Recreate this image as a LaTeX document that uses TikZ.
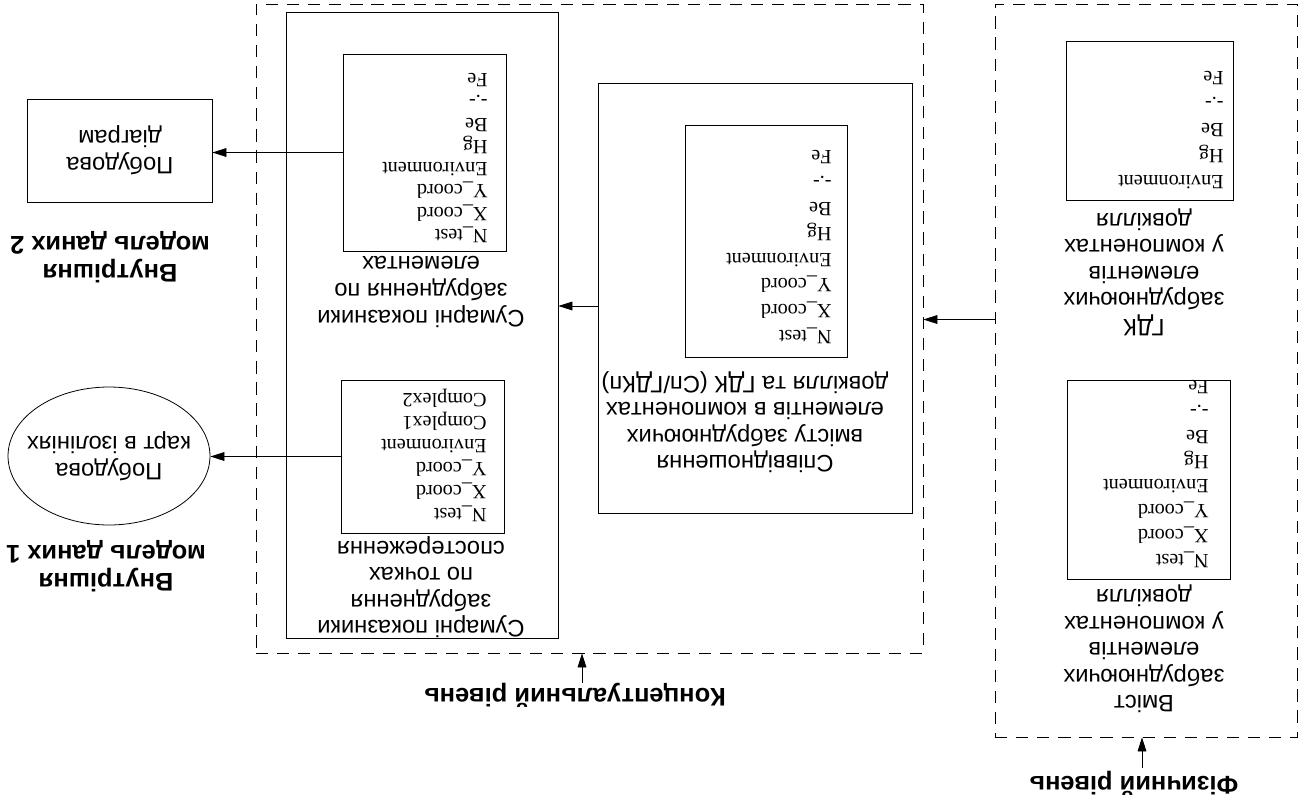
\documentclass[tikz,border=0pt]{standalone}
\usepackage{fontspec}
\setmainfont{Liberation Serif}
\setsansfont{Liberation Sans}
\usetikzlibrary{arrows.meta,fit,shapes.geometric}

\tikzset{
  box/.style={draw,line width=0.45pt,inner sep=0pt},
  dbox/.style={box,dash pattern=on 7pt off 5pt},
  arr/.style={line width=0.45pt,-{Triangle[length=8pt,width=5pt]}},
  txt/.style={rotate=180,align=center,inner sep=0pt,
    font=\sffamily\fontsize{13.5}{15.1}\selectfont},
  btxt/.style={rotate=180,align=center,inner sep=0pt,
    font=\sffamily\bfseries\fontsize{14.5}{16}\selectfont},
  lst/.style={rotate=180,align=left,anchor=west,inner sep=0pt,
    font=\fontsize{11.5}{#1}\selectfont},
  lst/.default=14
}

\begin{document}
\begin{tikzpicture}[x=0.02cm,y=-0.02cm]
  \useasboundingbox (0,0) rectangle (1303,809);

  % levels
  \node[dbox,fit={(256,4) (923,653)}] (concept) {};
  \node[dbox,fit={(995,4) (1297,737)}] (phys) {};

  % conceptual level
  \node[box,fit={(286,12) (558,638)}] (sums) {};
  \node[box,fit={(343,54) (506,251)}] (elbox) {};
  \node[box,fit={(341,380) (504,533)}] (ptbox) {};
  \node[box,fit={(598,83) (912,513)}] (ratio) {};
  \node[box,fit={(685,125) (847,357)}] (rtbox) {};

  % physical level
  \node[box,fit={(1066,41) (1233,200)}] (mpcbox) {};
  \node[box,fit={(1067,380) (1230,579)}] (cntbox) {};

  % internal models
  \node[box,fit={(27,99) (212,202)}] (diag) {};
  \node[box,ellipse,minimum width=4.04cm,minimum height=2.76cm] (isomap) at (109,456) {};

  % captions
  \node[txt] (diagtxt) at (120,150) {Побудова\\діаграм};
  \node[txt] (isotxt) at (109,456) {Побудова\\карт в ізолініях};
  \node[btxt] (model2) at (110,257) {Внутрішня\\модель даних 2};
  \node[btxt] (model1) at (106,566) {Внутрішня\\модель даних 1};
  \node[txt] (eltxt) at (421,292) {Сумарні показники\\забруднення по\\елементах};
  \node[txt] (pttxt) at (421,587) {Сумарні показники\\забруднення\\по точках\\спостереження};
  \node[txt] (rttxt) at (745,422) {Співвідношення\\вмісту забруднюючих\\елементів в компонентах\\довкілля та ГДК (Сп/ГДКп)};
  \node[txt] (mpctxt) at (1144,272) {ГДК\\забруднюючих\\елементів\\у компонентах\\довкілля};
  \node[txt] (cnttxt) at (1144,649) {Вміст\\забруднюючих\\елементів\\у компонентах\\довкілля};
  \node[btxt] (clevel) at (575,695) {Концептуальний рівень};
  \node[btxt] (plevel) at (1134,783) {Фізичний рівень};

  % field lists
  \node[lst=12.7] (ellist) at (488,158) {N\_test\\X\_coord\\Y\_coord\\Environment\\Hg\\Be\\-.-\\Fe};
  \node[lst=13.1] (ptlist) at (487,455) {N\_test\\X\_coord\\Y\_coord\\Environment\\Complex1\\Complex2};
  \node[lst=14.6] (rtlist) at (832,247) {N\_test\\X\_coord\\Y\_coord\\Environment\\Hg\\Be\\-.-\\Fe};
  \node[lst=14.9] (mpclist) at (1224,130) {Environment\\Hg\\Be\\-.-\\Fe};
  \node[lst=14.2] (cntlist) at (1209,474) {N\_test\\X\_coord\\Y\_coord\\Environment\\Hg\\Be\\-.-\\Fe};

  % connectors
  \draw[arr] (elbox.west) -- (elbox.west -| diag.east);
  \draw[arr] (ptbox.west) -- (ptbox.west -| isomap.east);
  \coordinate (rt) at ([yshift=-0.16cm]ratio.west);
  \draw[arr] (rt) -- (rt -| sums.east);
  \coordinate (ph) at ([yshift=1.02cm]phys.west);
  \draw[arr] (ph) -- (ph -| concept.east);
  \coordinate (ct) at (582,683);
  \draw[arr] (ct) -- (ct |- concept.south);
  \coordinate (pt) at (1142,768);
  \draw[arr] (pt) -- (pt |- phys.south);
\end{tikzpicture}
\end{document}
